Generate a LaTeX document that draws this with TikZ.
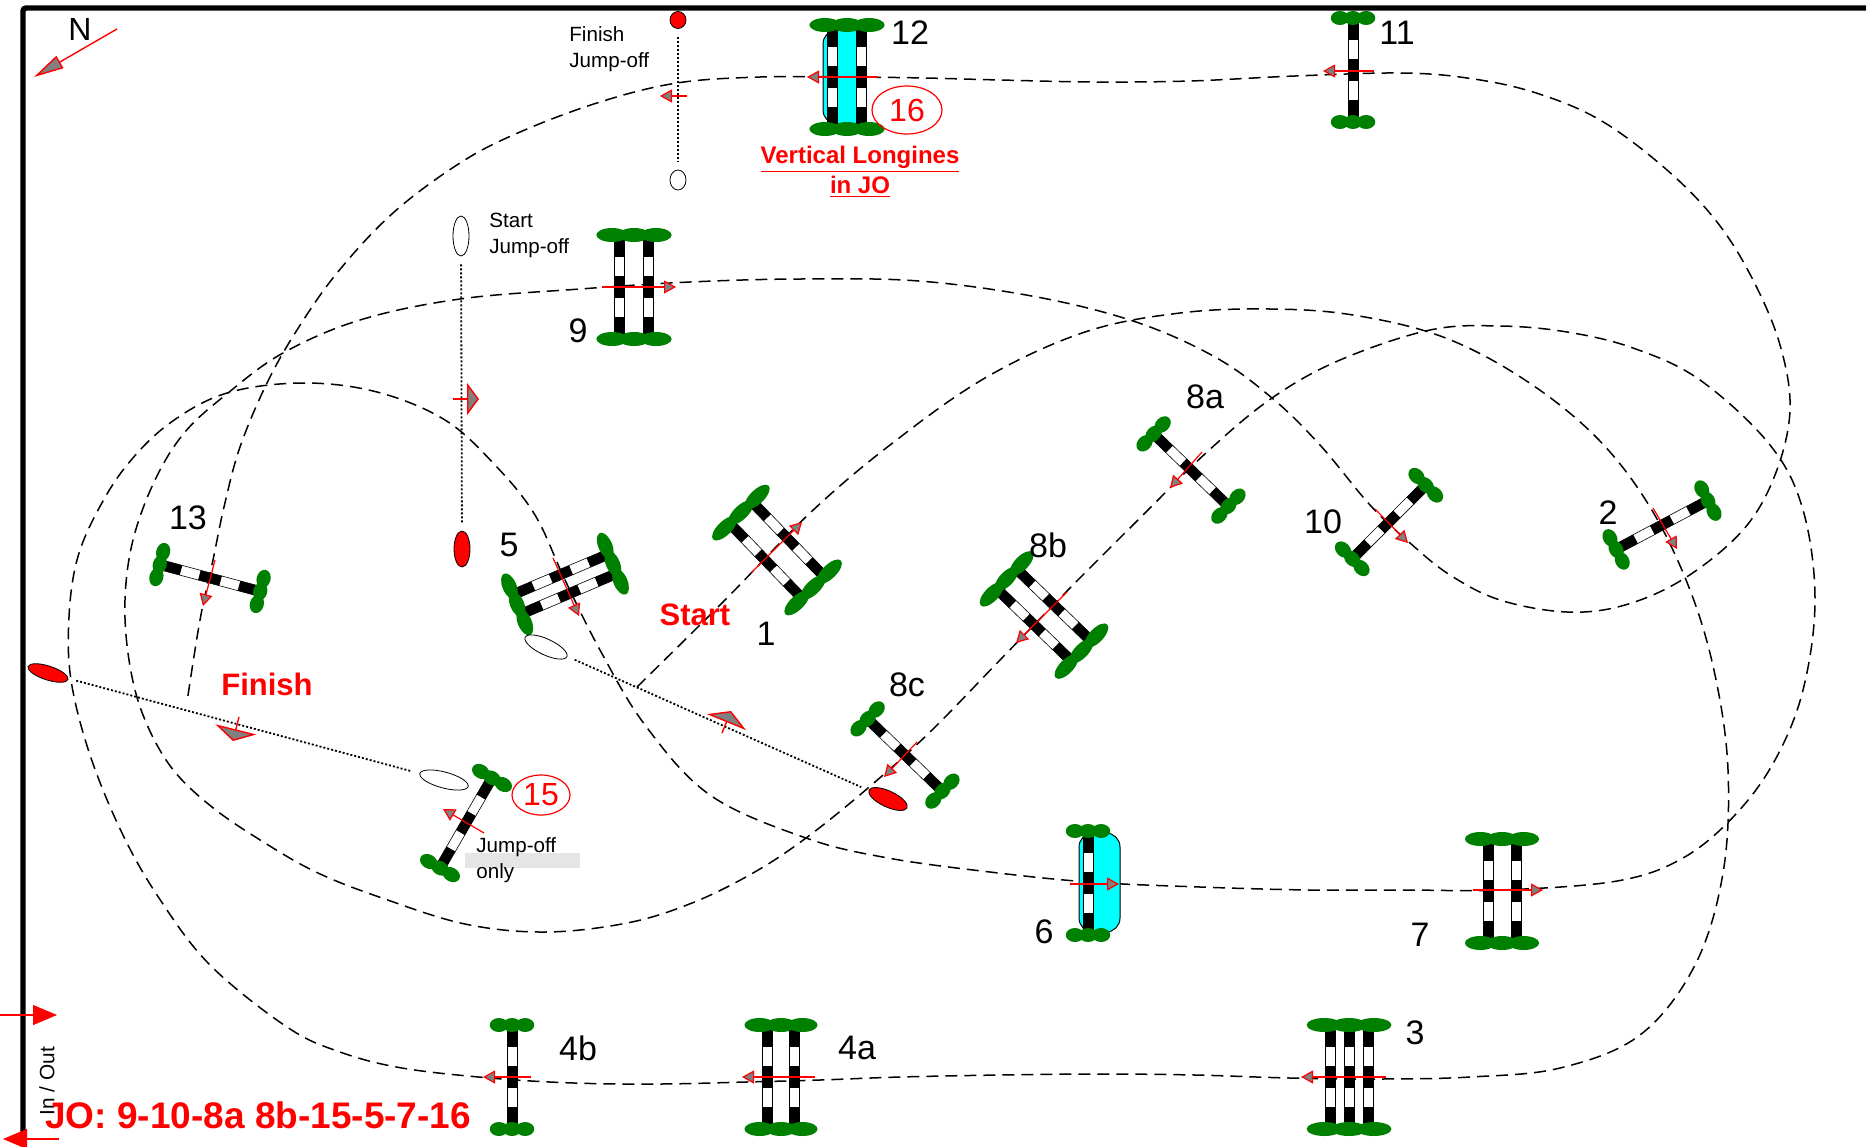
\documentclass[tikz,border=0pt]{standalone}
\usepackage{fontspec}
\setmainfont{Liberation Sans}
\usetikzlibrary{arrows.meta,shapes.geometric}

\definecolor{bushgreen}{RGB}{0,128,0}
\definecolor{watercyan}{RGB}{0,255,255}
\definecolor{pure red}{RGB}{255,0,0}

\tikzset{
    num/.style={font=\fontsize{17}{20}\selectfont},
    note/.style={font=\fontsize{10.3}{13}\selectfont, align=left, anchor=west, inner sep=0pt},
    redtext/.style={text=pure red, font=\fontsize{15.5}{18}\selectfont\bfseries},
    jonum/.style={draw=pure red, ellipse, inner sep=0pt, line width=0.6pt, text=pure red, font=\fontsize{16}{18}\selectfont},
    route/.style={dash pattern=on 6pt off 3.5pt, line width=0.75pt},
    runarrow/.style={draw=pure red, line width=0.6pt, -{Triangle[fill=gray, length=6pt, width=6.5pt]}},
    flagarrow/.style={draw=pure red, line width=0.7pt, -{Triangle[fill=gray, length=6pt, width=#1]}},
    doorarrow/.style={draw=pure red, line width=0.6pt, -{Triangle[fill=pure red, length=12pt, width=10pt]}},
    gateline/.style={dash pattern=on 1pt off 1pt, line width=0.9pt, shorten >=4pt, shorten <=4pt},
    redgate/.style={draw, ellipse, fill=pure red, inner sep=0pt, line width=0.4pt},
    whitegate/.style={draw, ellipse, fill=white, inner sep=0pt, line width=0.4pt},
    water/.style={draw, fill=watercyan, rounded corners=7pt, line width=0.5pt}
}

% x, y, angle, poles, gap between poles
\newcommand{\fence}[5]{%
    \begin{scope}[shift={(#1,#2)}, rotate=#3]
        \pgfmathsetmacro{\halfw}{((#4-1)*#5+42)/2}
        \foreach \i in {1,...,#4} {
            \pgfmathsetmacro{\px}{(\i-(#4+1)/2)*#5}
            \draw[fill=white, line width=0.3pt] (\px-5,-47) rectangle (\px+5,47);
            \fill (\px-5,-47) rectangle (\px+5,-30);
            \fill (\px-5,-11) rectangle (\px+5,11);
            \fill (\px-5,30) rectangle (\px+5,47);
        }
        \foreach \k in {-1,0,1} {
            \fill[bushgreen] (\k*\halfw*0.62,-52) ellipse ({\halfw*0.44} and 7);
            \fill[bushgreen] (\k*\halfw*0.62,52) ellipse ({\halfw*0.44} and 7);
        }
    \end{scope}%
}

\begin{document}
\begin{tikzpicture}[x=0.5pt, y=-0.5pt]
\useasboundingbox (0,0) rectangle (1866,1146);

% Arena
\draw[line width=2.7pt, rounded corners=1.5pt] (23,1137) -- (23,8) -- (1866,8);

% Route
\draw[route] plot[smooth, tension=0.6] coordinates {
    (637,687) (725,600) (810,513) (890,445) (985,378) (1085,332) (1180,313) (1270,309)
    (1353,315) (1443,337) (1525,380) (1597,438) (1650,507) (1690,590) (1715,675) (1728,770)
    (1723,873) (1695,965) (1640,1035) (1560,1068) (1470,1077) (1380,1079) (1290,1078)
    (1195,1075) (1100,1074) (1000,1075) (900,1077) (820,1080) (746,1082) (660,1084) (574,1083)
    (490,1078) (402,1068) (340,1052) (287,1027) (210,965) (159,898) (122,833) (90,755) (71,680)
    (69,617) (77,560) (97,512) (127,465) (170,423) (227,393) (303,383) (377,392) (445,420)
    (495,465) (535,515) (565,580) (600,650) (645,725) (710,795) (806,838) (888,858) (990,872)
    (1089,882) (1200,887) (1309,890) (1405,890) (1502,890) (1617,881) (1683,858) (1735,815)
    (1775,760) (1803,690) (1815,600) (1803,510) (1770,445) (1700,380) (1633,348) (1567,332)
    (1500,326) (1430,330) (1340,360) (1272,398) (1207,452) (1140,518) (1068,590) (1000,660)
    (930,732) (868,788) (806,838) (753,873) (692,903) (627,923) (545,932) (465,924) (382,898)
    (318,873) (265,843) (212,807) (171,767) (143,715) (129,660) (125,600) (133,540) (155,480)
    (185,432) (228,393) (283,353) (360,320) (460,299) (580,289) (690,282) (800,279) (919,281)
    (1037,297) (1136,322) (1215,357) (1272,398) (1320,445) (1370,505) (1410,543) (1450,575)
    (1500,600) (1567,612) (1625,605) (1685,578) (1743,530) (1775,475) (1790,410) (1780,345)
    (1753,280) (1717,222) (1667,170) (1600,120) (1533,92) (1467,78) (1400,73) (1295,76)
    (1190,81) (1095,82) (1000,80) (925,78) (847,77) (760,77) (677,83) (600,102) (520,132)
    (460,163) (393,213) (337,273) (297,330) (267,383) (240,447) (224,507) (213,560) (200,620)
    (187,702)
};

% Water
\draw[water] (823,30) rectangle (866,124);
\draw[water] (1079,833) rectangle (1120,932);

% Jumps
\fence{777}{550}{44}{2}{31}
\fence{1662}{525}{-62}{1}{0}
\fence{1349}{1077}{0}{3}{19}
\fence{781}{1077}{0}{2}{27}
\fence{512}{1077}{0}{1}{0}
\fence{565}{584}{-67}{2}{21}
\fence{1088}{883}{0}{1}{0}
\fence{1502}{891}{0}{2}{28}
\fence{1191}{470}{46}{1}{0}
\fence{1044}{615}{46}{2}{28}
\fence{905}{755}{46}{1}{0}
\fence{634}{287}{0}{2}{29}
\fence{1389}{522}{-45}{1}{0}
\fence{1353}{70}{0}{1}{0}
\fence{847}{77}{0}{2}{29}
\fence{210}{578}{75}{1}{0}
\fence{466}{823}{-30}{1}{0}

% Jump direction
\draw[runarrow] (751,573) -- (802,522);
\draw[runarrow] (1653,508) -- (1677,549);
\draw[runarrow] (1386,1077) -- (1301,1077);
\draw[runarrow] (815,1077) -- (742,1077);
\draw[runarrow] (531,1077) -- (483,1077);
\draw[runarrow] (553,558) -- (579,616);
\draw[runarrow] (1070,884) -- (1119,884);
\draw[runarrow] (1473,890) -- (1543,890);
\draw[runarrow] (1202,452) -- (1170,488);
\draw[runarrow] (1067,592) -- (1016,643);
\draw[runarrow] (917,742) -- (884,777);
\draw[runarrow] (602,287) -- (676,287);
\draw[runarrow] (1375,509) -- (1408,543);
\draw[runarrow] (1374,71) -- (1323,71);
\draw[runarrow] (878,77) -- (807,77);
\draw[runarrow] (215,560) -- (203,606);
\draw[runarrow] (484,833) -- (443,809);
\draw[runarrow] (687,96) -- (660,96);

% Start and finish lines
\node[redgate, minimum width=21pt, minimum height=7pt, rotate=-18] (finishred) at (48,673) {};
\node[whitegate, minimum width=25pt, minimum height=8pt, rotate=-15] (finishwhite) at (444,780) {};
\draw[gateline] (finishred) -- (finishwhite);
\node[whitegate, minimum width=23pt, minimum height=8pt, rotate=-25] (startwhite) at (546,647) {};
\node[redgate, minimum width=21pt, minimum height=8pt, rotate=-25] (startred) at (888,799) {};
\draw[gateline] (startwhite) -- (startred);
\node[whitegate, minimum width=8pt, minimum height=20pt] (jostartwhite) at (461,236) {};
\node[redgate, minimum width=8pt, minimum height=18pt] (jostartred) at (462,549) {};
\draw[gateline] (jostartwhite) -- (jostartred);
\node[redgate, minimum width=8pt, minimum height=8.5pt] (jofinishred) at (678,20) {};
\node[whitegate, minimum width=8pt, minimum height=10pt] (jofinishwhite) at (678,180) {};
\draw[gateline] (jofinishred) -- (jofinishwhite);

\draw[flagarrow=21pt] (239,717) -- (233,741);
\draw[flagarrow=21pt] (722,733) -- (731,711);
\draw[flagarrow=16pt] (453,399) -- (479,399);

% In and out
\draw[doorarrow] (0,1015) -- (57,1015);
\draw[doorarrow] (59,1139) -- (3,1139);
\node[rotate=90, font=\fontsize{10.4}{12}\selectfont] (inout) at (47,1081) {In / Out};

% North
\draw[draw=pure red, line width=0.7pt, -{Triangle[fill=gray, length=15pt, width=7pt]}] (117,29) -- (34,77);
\node[font=\fontsize{16}{18}\selectfont] (north) at (80,29) {N};

% Numbers
\node[num] (n1) at (766,634) {1};
\node[num] (n2) at (1608,513) {2};
\node[num] (n3) at (1415,1033) {3};
\node[num] (n4a) at (857,1048) {4a};
\node[num] (n4b) at (578,1048) {4b};
\node[num] (n5) at (509,545) {5};
\node[num] (n6) at (1044,932) {6};
\node[num] (n7) at (1420,935) {7};
\node[num] (n8a) at (1205,397) {8a};
\node[num] (n8b) at (1048,545) {8b};
\node[num] (n8c) at (907,685) {8c};
\node[num] (n9) at (578,331) {9};
\node[num] (n10) at (1323,522) {10};
\node[num] (n11) at (1397,33) {11};
\node[num] (n12) at (910,33) {12};
\node[num] (n13) at (188,518) {13};

\node[jonum, minimum width=35pt, minimum height=24pt] (jo16) at (907,110) {16};
\node[jonum, minimum width=29pt, minimum height=20pt] (jo15) at (541,795) {15};

% Texts
\fill[gray!20] (465,853) rectangle (580,868);
\node[note] (jumpoff) at (476,860) {Jump-off\\only};
\node[note] (jofinish) at (569,49) {Finish\\Jump-off};
\node[note] (jostart) at (489,235) {Start\\Jump-off};
\node[redtext] (start) at (695,615) {Start};
\node[redtext] (finish) at (267,684) {Finish};
\node[redtext, font=\fontsize{12}{15}\selectfont\bfseries, align=center] (longines) at (860,172) {\underline{Vertical Longines}\\\underline{in JO}};
\node[redtext, font=\fontsize{18.5}{22}\selectfont\bfseries, anchor=west, inner sep=0pt] (jolist) at (45,1115) {JO: 9-10-8a 8b-15-5-7-16};

\end{tikzpicture}
\end{document}
